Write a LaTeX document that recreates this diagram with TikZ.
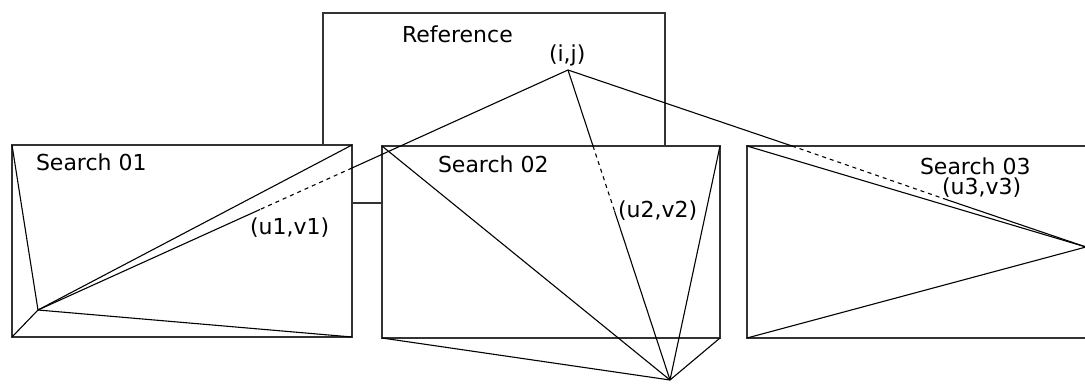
\documentclass[tikz,border=0pt]{standalone}
\usepackage{fontspec}
\setmainfont{DejaVu Sans}
\begin{document}
\begin{tikzpicture}[x=1pt,y=-1pt,
  box/.style={draw=black!80,line width=1.5pt,fill=white,inner sep=0pt,outer sep=0pt},
  ln/.style={draw=black,line width=1.1pt},
  dln/.style={draw=black,line width=1.1pt,dash pattern=on 4pt off 4pt},
  lbl/.style={inner sep=0pt,outer sep=0pt,font=\fontsize{22}{26}\selectfont}]
\useasboundingbox (0,0) rectangle (1085,385);
% boxes
\node[box,minimum width=342pt,minimum height=190pt] (ref) at (494,108) {};
\node[box,minimum width=340pt,minimum height=192pt] (s1) at (182,241) {};
\node[box,minimum width=338pt,minimum height=192pt] (s2) at (551,242) {};
\node[box,minimum width=342pt,minimum height=192pt] (s3) at (918,242) {};
% points
\coordinate (ij) at (568,70);
\coordinate (p1) at (38,310);
\coordinate (p2) at (670,380);
\coordinate (p3) at (1086,247);
\coordinate (e1) at (352,168);
\coordinate (u1) at (260,209.5);
\coordinate (e2) at (593,146);
\coordinate (u2) at (614.5,211);
\coordinate (e3) at (792,146);
\coordinate (u3) at (943,198.4);
% labels
\node[lbl,anchor=base west] (tref) at (402,43) {Reference};
\node[lbl,anchor=base west] (tij) at (549,62) {(i,j)};
\node[lbl,anchor=base west] (ts1) at (36,171) {Search 01};
\node[lbl,anchor=base west] (tu1) at (250,234) {(u1,v1)};
\node[lbl,anchor=base west] (ts2) at (438,172) {Search 02};
\node[lbl,anchor=base west] (tu2) at (618,217) {(u2,v2)};
\node[lbl,anchor=base west] (ts3) at (920,175) {Search 03};
\node[lbl,anchor=base west] (tu3) at (942,195) {(u3,v3)};
% search 01 fan
\draw[ln] (p1) -- (s1.north west);
\draw[ln] (p1) -- (s1.south west);
\draw[ln] (p1) -- (s1.north east);
\draw[ln] (p1) -- (s1.south east);
\draw[ln] (ij) -- (e1);
\draw[dln] (e1) -- (u1);
\draw[ln] (u1) -- (p1);
% search 02 fan
\draw[ln] (p2) -- (s2.north west);
\draw[ln] (p2) -- (s2.south west);
\draw[ln] (p2) -- (s2.north east);
\draw[ln] (p2) -- (s2.south east);
\draw[ln] (ij) -- (e2);
\draw[dln] (e2) -- (u2);
\draw[ln] (u2) -- (p2);
% search 03 fan
\draw[ln] (p3) -- (s3.north west);
\draw[ln] (p3) -- (s3.south west);
\draw[ln] (ij) -- (e3);
\draw[dln] (e3) -- (u3);
\draw[ln] (u3) -- (p3);
\end{tikzpicture}
\end{document}
